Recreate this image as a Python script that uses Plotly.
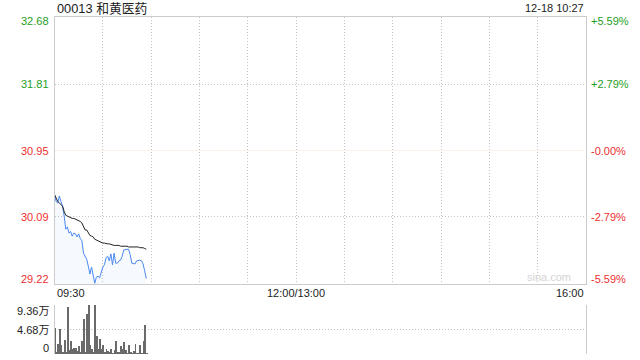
import plotly.graph_objects as go

# ---------------- data ----------------
minutes = list(range(58))  # minutes since 09:30
prices = [30.38, 30.29, 30.27, 30.36, 30.29, 30.23, 30.10, 29.93, 29.96, 29.88,
          29.90, 29.84, 29.88, 29.87, 29.83, 29.87, 29.81, 29.78, 29.62, 29.58,
          29.54, 29.45, 29.35, 29.44, 29.32, 29.23, 29.31, 29.32, 29.30, 29.36,
          29.44, 29.47, 29.56, 29.58, 29.52, 29.61, 29.47, 29.62, 29.49, 29.49,
          29.52, 29.53, 29.58, 29.66, 29.67, 29.67, 29.67, 29.60, 29.49, 29.48,
          29.48, 29.52, 29.53, 29.53, 29.52, 29.48, 29.39, 29.29]
avg_prices = [30.38, 30.33, 30.29, 30.27, 30.25, 30.23, 30.16, 30.11, 30.10, 30.09,
              30.07, 30.07, 30.07, 30.06, 30.06, 30.05, 30.03, 30.01, 29.96, 29.92,
              29.92, 29.89, 29.85, 29.84, 29.83, 29.80, 29.79, 29.78, 29.76, 29.76,
              29.75, 29.75, 29.74, 29.74, 29.74, 29.73, 29.72, 29.72, 29.72, 29.72,
              29.72, 29.71, 29.71, 29.71, 29.71, 29.71, 29.70, 29.70, 29.70, 29.70,
              29.70, 29.70, 29.70, 29.69, 29.69, 29.69, 29.68, 29.67]
volumes_wan = [4.9, 0.3, 1.9, 4.7, 1.7, 0.25, 2.7, 0.2, 8.9, 0.8,
               2.5, 0.9, 1.1, 1.1, 0.5, 1.6, 0.3, 2.5, 6.6, 0.3,
               7.6, 9.3, 1.7, 1.0, 0.3, 9.3, 3.5, 0.9, 2.9, 1.0,
               1.65, 0.4, 1.0, 0.6, 0.25, 0.9, 0.1, 0.8, 2.5, 0.25,
               0.4, 1.5, 0.9, 2.3, 0.8, 0.1, 1.65, 0.25, 0.1, 0.6,
               1.85, 0.05, 0.05, 1.65, 0.1, 2.5, 5.5, 0.1]

prev_close = 30.95
price_ticks = [32.68, 31.81, 30.95, 30.09, 29.22]
pct_labels = ["+5.59%", "+2.79%", "-0.00%", "-2.79%", "-5.59%"]
vol_ticks = [9.36, 4.68, 0]
vol_labels = ["9.36万", "4.68万", "0"]
time_labels = ["09:30", "12:00/13:00", "16:00"]
time_pos = [0, 150, 330]
title_text = "00013 和黄医药"
stamp_text = "12-18 10:27"

GREEN = "#1e9e1e"
RED = "#ee2f2f"
FONT = "Liberation Sans, Arial, Noto Sans CJK SC"
DOT = "1px,2px"

W, H = 640, 360
XL, XR = 54.5, 586
PT, PB = 17, 284
VT, VB = 305, 354

fig = go.Figure()

fig.add_trace(go.Scatter(
    x=minutes, y=prices, mode="lines",
    line=dict(color="#4a88f0", width=1),
    fill="tozeroy", fillcolor="rgba(74,136,240,0.05)",
    xaxis="x", yaxis="y", hoverinfo="skip"))
fig.add_trace(go.Scatter(
    x=minutes, y=avg_prices, mode="lines",
    line=dict(color="#222222", width=1),
    xaxis="x", yaxis="y", hoverinfo="skip"))
fig.add_trace(go.Bar(
    x=minutes, y=volumes_wan, width=0.55,
    marker=dict(color="#6a6a6a", line=dict(width=0)),
    xaxis="x2", yaxis="y2", hoverinfo="skip"))

# previous close reference line
fig.add_shape(type="line", xref="x", yref="y", x0=0, x1=330, y0=prev_close, y1=prev_close,
              line=dict(color="#f9d6c4", width=1, dash=DOT), layer="below")

annotations = []
for v, pl in zip(price_ticks, pct_labels):
    col = GREEN if v > prev_close else RED
    shift = 0
    if v == price_ticks[0]:
        shift = -4
    elif v == price_ticks[-1]:
        shift = 5
    annotations.append(dict(x=51 / W, xref="paper", y=v, yref="y", text=f"{v:.2f}",
                            xanchor="right", yanchor="middle", yshift=shift,
                            showarrow=False, font=dict(color=col, size=11, family=FONT)))
    annotations.append(dict(x=589 / W, xref="paper", y=v, yref="y", text=pl,
                            xanchor="left", yanchor="middle", yshift=shift,
                            showarrow=False, font=dict(color=col, size=11, family=FONT)))
for v, t in zip(vol_ticks, vol_labels):
    shift = -6 if v == vol_ticks[0] else (6 if v == 0 else 0)
    annotations.append(dict(x=51 / W, xref="paper", y=v, yref="y2", text=t,
                            xanchor="right", yanchor="middle", yshift=shift,
                            showarrow=False, font=dict(color="#222", size=11, family=FONT)))
anchors = ["left", "center", "right"]
for p, t, a in zip(time_pos, time_labels, anchors):
    annotations.append(dict(x=p, xref="x", y=1 - 293 / H, yref="paper", text=t,
                            xanchor=a, yanchor="middle", showarrow=False,
                            font=dict(color="#222", size=11, family=FONT)))
annotations.append(dict(x=XL / W, xref="paper", y=1 - 8 / H, yref="paper", text=title_text,
                        xanchor="left", yanchor="middle", showarrow=False,
                        font=dict(color="#222", size=12.8, family=FONT)))
annotations.append(dict(x=XR / W, xref="paper", y=1 - 8 / H, yref="paper", text=stamp_text,
                        xanchor="right", yanchor="middle", showarrow=False,
                        font=dict(color="#222", size=11, family=FONT)))
annotations.append(dict(x=573 / W, xref="paper", y=1 - 277 / H, yref="paper", text="sina.com",
                        xanchor="right", yanchor="middle", showarrow=False,
                        font=dict(color="#d4d4d4", size=11, family=FONT)))

fig.update_layout(
    width=W, height=H,
    margin=dict(l=0, r=0, t=0, b=0),
    paper_bgcolor="white", plot_bgcolor="white",
    showlegend=False,
    bargap=0,
    annotations=annotations,
    xaxis=dict(domain=[XL / W, XR / W], range=[0, 330], anchor="y",
               showgrid=True, dtick=30, tick0=0, griddash=DOT, gridcolor="#c4c4c4", gridwidth=1,
               showline=True, mirror=True, linecolor="#cccccc", linewidth=1,
               showticklabels=False, ticks="", zeroline=False, fixedrange=True),
    yaxis=dict(domain=[1 - PB / H, 1 - PT / H], range=[price_ticks[-1], price_ticks[0]], anchor="x",
               tickvals=[31.81, 30.09], showgrid=True, griddash=DOT, gridcolor="#c4c4c4", gridwidth=1,
               showline=True, mirror=True, linecolor="#cccccc", linewidth=1,
               showticklabels=False, ticks="", zeroline=False, fixedrange=True),
    xaxis2=dict(domain=[XL / W, XR / W], range=[0, 330], anchor="y2",
                showgrid=False, showline=False, showticklabels=False, ticks="",
                zeroline=False, fixedrange=True),
    yaxis2=dict(domain=[1 - VB / H, 1 - VT / H], range=[0, vol_ticks[0]], anchor="x2",
                tickvals=vol_ticks, showgrid=True, griddash=DOT, gridcolor="#bdbdbd", gridwidth=1,
                showline=True, mirror=True, linecolor="#cccccc", linewidth=1,
                showticklabels=False, ticks="", zeroline=False, fixedrange=True),
)

fig.write_html("out.html")
